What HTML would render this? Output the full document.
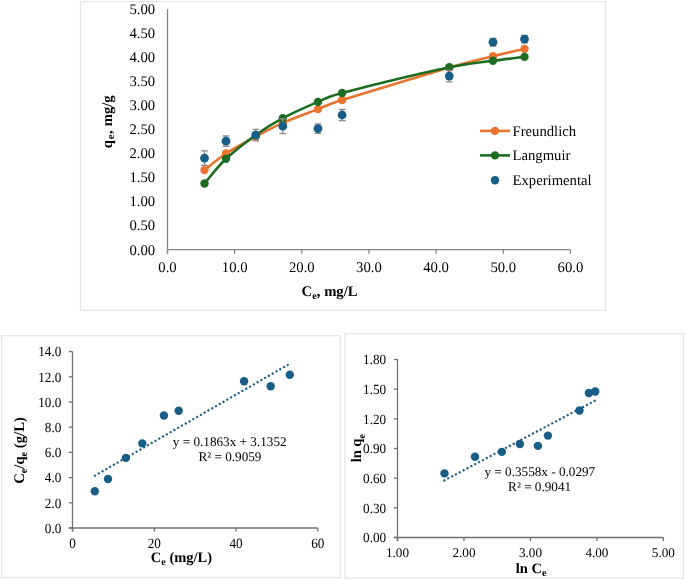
<!DOCTYPE html>
<html><head><meta charset="utf-8"><title>Isotherm charts</title>
<style>html,body{margin:0;padding:0;background:#fff;} svg{display:block;will-change:transform;text-rendering:geometricPrecision;} text{font-family:"Liberation Serif",serif;}</style>
</head><body>
<svg width="685" height="580" viewBox="0 0 685 580">
<rect width="685" height="580" fill="#fff"/>
<rect x="80.5" y="1.6" width="524.90" height="308.60" fill="#fff" stroke="#E5E5E5" stroke-width="1.2"/>
<rect x="1.7" y="335.7" width="338.70" height="241.90" fill="#fff" stroke="#E5E5E5" stroke-width="1.2"/>
<rect x="344.8" y="333.6" width="338.70" height="244.60" fill="#fff" stroke="#E5E5E5" stroke-width="1.2"/>
<line x1="167.5" y1="9.2" x2="167.5" y2="253.7" stroke="#868686" stroke-width="1.3"/>
<line x1="167.5" y1="249.7" x2="570.4" y2="249.7" stroke="#868686" stroke-width="1.3"/>
<line x1="167.50" y1="249.7" x2="167.50" y2="253.7" stroke="#868686" stroke-width="1.3"/>
<line x1="234.65" y1="249.7" x2="234.65" y2="253.7" stroke="#868686" stroke-width="1.3"/>
<line x1="301.80" y1="249.7" x2="301.80" y2="253.7" stroke="#868686" stroke-width="1.3"/>
<line x1="368.95" y1="249.7" x2="368.95" y2="253.7" stroke="#868686" stroke-width="1.3"/>
<line x1="436.10" y1="249.7" x2="436.10" y2="253.7" stroke="#868686" stroke-width="1.3"/>
<line x1="503.25" y1="249.7" x2="503.25" y2="253.7" stroke="#868686" stroke-width="1.3"/>
<line x1="570.40" y1="249.7" x2="570.40" y2="253.7" stroke="#868686" stroke-width="1.3"/>
<text x="155.2" y="254.50" text-anchor="end" font-family="Liberation Serif, serif" font-size="14.7" fill="#000">0.00</text>
<text x="155.2" y="230.45" text-anchor="end" font-family="Liberation Serif, serif" font-size="14.7" fill="#000">0.50</text>
<text x="155.2" y="206.40" text-anchor="end" font-family="Liberation Serif, serif" font-size="14.7" fill="#000">1.00</text>
<text x="155.2" y="182.35" text-anchor="end" font-family="Liberation Serif, serif" font-size="14.7" fill="#000">1.50</text>
<text x="155.2" y="158.30" text-anchor="end" font-family="Liberation Serif, serif" font-size="14.7" fill="#000">2.00</text>
<text x="155.2" y="134.25" text-anchor="end" font-family="Liberation Serif, serif" font-size="14.7" fill="#000">2.50</text>
<text x="155.2" y="110.20" text-anchor="end" font-family="Liberation Serif, serif" font-size="14.7" fill="#000">3.00</text>
<text x="155.2" y="86.15" text-anchor="end" font-family="Liberation Serif, serif" font-size="14.7" fill="#000">3.50</text>
<text x="155.2" y="62.10" text-anchor="end" font-family="Liberation Serif, serif" font-size="14.7" fill="#000">4.00</text>
<text x="155.2" y="38.05" text-anchor="end" font-family="Liberation Serif, serif" font-size="14.7" fill="#000">4.50</text>
<text x="155.2" y="14.00" text-anchor="end" font-family="Liberation Serif, serif" font-size="14.7" fill="#000">5.00</text>
<text x="167.50" y="271.8" text-anchor="middle" font-family="Liberation Serif, serif" font-size="14.7" fill="#000">0.0</text>
<text x="234.65" y="271.8" text-anchor="middle" font-family="Liberation Serif, serif" font-size="14.7" fill="#000">10.0</text>
<text x="301.80" y="271.8" text-anchor="middle" font-family="Liberation Serif, serif" font-size="14.7" fill="#000">20.0</text>
<text x="368.95" y="271.8" text-anchor="middle" font-family="Liberation Serif, serif" font-size="14.7" fill="#000">30.0</text>
<text x="436.10" y="271.8" text-anchor="middle" font-family="Liberation Serif, serif" font-size="14.7" fill="#000">40.0</text>
<text x="503.25" y="271.8" text-anchor="middle" font-family="Liberation Serif, serif" font-size="14.7" fill="#000">50.0</text>
<text x="570.40" y="271.8" text-anchor="middle" font-family="Liberation Serif, serif" font-size="14.7" fill="#000">60.0</text>
<text x="329.6" y="295.6" text-anchor="middle" font-family="Liberation Serif, serif" font-size="14.7" font-weight="bold" fill="#000">C<tspan font-size="10.3" dy="3.3">e</tspan><tspan dy="-3.3">, mg/L</tspan></text>
<text transform="translate(112.1,148.3) rotate(-90)" font-family="Liberation Serif, serif" font-size="14.7" font-weight="bold" fill="#000">q<tspan font-size="10.5" dx="0.9" dy="1.5">e</tspan><tspan dx="0.6" dy="-1.5">,</tspan><tspan dx="0.3"> mg/g</tspan></text>
<path d="M204.50,170.10 C208.08,167.33 217.45,159.08 226.00,153.50 C234.55,147.92 246.33,141.70 255.80,136.60 C265.27,131.50 272.43,127.48 282.80,122.90 C293.17,118.32 308.12,112.92 318.00,109.10 C325.59,106.17 325.29,105.31 342.10,100.00 C363.98,93.08 424.15,74.90 449.30,67.60 C474.45,60.30 480.47,59.32 493.00,56.20 C505.53,53.08 519.25,50.12 524.50,48.90" fill="none" stroke="#E9732F" stroke-width="2.6" stroke-linejoin="round"/>
<circle cx="204.5" cy="170.1" r="4.2" fill="#E9732F"/>
<circle cx="226.0" cy="153.5" r="4.2" fill="#E9732F"/>
<circle cx="255.8" cy="136.6" r="4.2" fill="#E9732F"/>
<circle cx="282.8" cy="122.9" r="4.2" fill="#E9732F"/>
<circle cx="318.0" cy="109.1" r="4.2" fill="#E9732F"/>
<circle cx="342.1" cy="100.0" r="4.2" fill="#E9732F"/>
<circle cx="449.3" cy="67.6" r="4.2" fill="#E9732F"/>
<circle cx="493.0" cy="56.2" r="4.2" fill="#E9732F"/>
<circle cx="524.5" cy="48.9" r="4.2" fill="#E9732F"/>
<path d="M204.50,183.50 C208.08,179.38 217.45,166.88 226.00,158.80 C234.55,150.72 246.33,141.77 255.80,135.00 C265.27,128.23 272.43,123.72 282.80,118.20 C293.17,112.68 308.12,106.10 318.00,101.90 C325.61,98.67 325.25,97.44 342.10,93.00 C363.98,87.23 424.15,72.67 449.30,67.30 C474.45,61.93 480.47,62.53 493.00,60.80 C505.53,59.07 519.25,57.55 524.50,56.90" fill="none" stroke="#1D6C22" stroke-width="2.6" stroke-linejoin="round"/>
<circle cx="204.5" cy="183.5" r="4.2" fill="#1D6C22"/>
<circle cx="226.0" cy="158.8" r="4.2" fill="#1D6C22"/>
<circle cx="255.8" cy="135.0" r="4.2" fill="#1D6C22"/>
<circle cx="282.8" cy="118.2" r="4.2" fill="#1D6C22"/>
<circle cx="318.0" cy="101.9" r="4.2" fill="#1D6C22"/>
<circle cx="342.1" cy="93.0" r="4.2" fill="#1D6C22"/>
<circle cx="449.3" cy="67.3" r="4.2" fill="#1D6C22"/>
<circle cx="493.0" cy="60.8" r="4.2" fill="#1D6C22"/>
<circle cx="524.5" cy="56.9" r="4.2" fill="#1D6C22"/>
<path d="M204.5,150.9 V165.29999999999998 M201.1,150.9 H207.9 M201.1,165.29999999999998 H207.9" stroke="#8C8C8C" stroke-width="1.3" fill="none"/>
<path d="M226.0,136.0 V146.39999999999998 M222.6,136.0 H229.4 M222.6,146.39999999999998 H229.4" stroke="#8C8C8C" stroke-width="1.3" fill="none"/>
<path d="M255.8,129.4 V140.79999999999998 M252.4,129.4 H259.2 M252.4,140.79999999999998 H259.2" stroke="#8C8C8C" stroke-width="1.3" fill="none"/>
<path d="M282.8,118.85000000000001 V133.55 M279.40000000000003,118.85000000000001 H286.2 M279.40000000000003,133.55 H286.2" stroke="#8C8C8C" stroke-width="1.3" fill="none"/>
<path d="M318.0,123.8 V133.4 M314.6,123.8 H321.4 M314.6,133.4 H321.4" stroke="#8C8C8C" stroke-width="1.3" fill="none"/>
<path d="M342.1,109.45 V120.55 M338.70000000000005,109.45 H345.5 M338.70000000000005,120.55 H345.5" stroke="#8C8C8C" stroke-width="1.3" fill="none"/>
<path d="M449.3,70.3 V81.89999999999999 M445.90000000000003,70.3 H452.7 M445.90000000000003,81.89999999999999 H452.7" stroke="#8C8C8C" stroke-width="1.3" fill="none"/>
<path d="M493.0,38.300000000000004 V46.1 M489.6,38.300000000000004 H496.4 M489.6,46.1 H496.4" stroke="#8C8C8C" stroke-width="1.3" fill="none"/>
<path d="M524.5,35.35 V42.85 M521.1,35.35 H527.9 M521.1,42.85 H527.9" stroke="#8C8C8C" stroke-width="1.3" fill="none"/>
<circle cx="204.5" cy="158.1" r="4.4" fill="#195E86"/>
<circle cx="226.0" cy="141.2" r="4.4" fill="#195E86"/>
<circle cx="255.8" cy="135.1" r="4.4" fill="#195E86"/>
<circle cx="282.8" cy="126.2" r="4.4" fill="#195E86"/>
<circle cx="318.0" cy="128.6" r="4.4" fill="#195E86"/>
<circle cx="342.1" cy="115.0" r="4.4" fill="#195E86"/>
<circle cx="449.3" cy="76.1" r="4.4" fill="#195E86"/>
<circle cx="493.0" cy="42.2" r="4.4" fill="#195E86"/>
<circle cx="524.5" cy="39.1" r="4.4" fill="#195E86"/>
<line x1="480" y1="130.9" x2="510" y2="130.9" stroke="#E9732F" stroke-width="2.6"/>
<circle cx="495" cy="130.9" r="4.2" fill="#E9732F"/>
<text x="512.5" y="135.90" font-family="Liberation Serif, serif" font-size="14.7" fill="#000">Freundlich</text>
<line x1="480" y1="155.4" x2="510" y2="155.4" stroke="#1D6C22" stroke-width="2.6"/>
<circle cx="495" cy="155.4" r="4.2" fill="#1D6C22"/>
<text x="512.5" y="160.40" font-family="Liberation Serif, serif" font-size="14.7" fill="#000">Langmuir</text>
<circle cx="495" cy="180.2" r="4.2" fill="#195E86"/>
<text x="512.5" y="185.20" font-family="Liberation Serif, serif" font-size="14.7" fill="#000">Experimental</text>
<line x1="72.5" y1="351.6" x2="72.5" y2="531.6" stroke="#707070" stroke-width="1.3"/>
<line x1="68.9" y1="528.0" x2="317.8" y2="528.0" stroke="#707070" stroke-width="1.3"/>
<line x1="68.9" y1="528.00" x2="72.5" y2="528.00" stroke="#707070" stroke-width="1.3"/>
<text transform="translate(61.30,532.70) scale(1,1.06)" text-anchor="end" font-family="Liberation Serif, serif" font-size="13.2" fill="#000">0.0</text>
<line x1="68.9" y1="502.80" x2="72.5" y2="502.80" stroke="#707070" stroke-width="1.3"/>
<text transform="translate(61.30,507.50) scale(1,1.06)" text-anchor="end" font-family="Liberation Serif, serif" font-size="13.2" fill="#000">2.0</text>
<line x1="68.9" y1="477.60" x2="72.5" y2="477.60" stroke="#707070" stroke-width="1.3"/>
<text transform="translate(61.30,482.30) scale(1,1.06)" text-anchor="end" font-family="Liberation Serif, serif" font-size="13.2" fill="#000">4.0</text>
<line x1="68.9" y1="452.40" x2="72.5" y2="452.40" stroke="#707070" stroke-width="1.3"/>
<text transform="translate(61.30,457.10) scale(1,1.06)" text-anchor="end" font-family="Liberation Serif, serif" font-size="13.2" fill="#000">6.0</text>
<line x1="68.9" y1="427.20" x2="72.5" y2="427.20" stroke="#707070" stroke-width="1.3"/>
<text transform="translate(61.30,431.90) scale(1,1.06)" text-anchor="end" font-family="Liberation Serif, serif" font-size="13.2" fill="#000">8.0</text>
<line x1="68.9" y1="402.00" x2="72.5" y2="402.00" stroke="#707070" stroke-width="1.3"/>
<text transform="translate(61.30,406.70) scale(1,1.06)" text-anchor="end" font-family="Liberation Serif, serif" font-size="13.2" fill="#000">10.0</text>
<line x1="68.9" y1="376.80" x2="72.5" y2="376.80" stroke="#707070" stroke-width="1.3"/>
<text transform="translate(61.30,381.50) scale(1,1.06)" text-anchor="end" font-family="Liberation Serif, serif" font-size="13.2" fill="#000">12.0</text>
<line x1="68.9" y1="351.60" x2="72.5" y2="351.60" stroke="#707070" stroke-width="1.3"/>
<text transform="translate(61.30,356.30) scale(1,1.06)" text-anchor="end" font-family="Liberation Serif, serif" font-size="13.2" fill="#000">14.0</text>
<line x1="72.50" y1="528.0" x2="72.50" y2="531.6" stroke="#707070" stroke-width="1.3"/>
<text transform="translate(72.50,547.70) scale(1,1.07)" text-anchor="middle" font-family="Liberation Serif, serif" font-size="13.2" fill="#000">0</text>
<line x1="154.27" y1="528.0" x2="154.27" y2="531.6" stroke="#707070" stroke-width="1.3"/>
<text transform="translate(154.27,547.70) scale(1,1.07)" text-anchor="middle" font-family="Liberation Serif, serif" font-size="13.2" fill="#000">20</text>
<line x1="236.03" y1="528.0" x2="236.03" y2="531.6" stroke="#707070" stroke-width="1.3"/>
<text transform="translate(236.03,547.70) scale(1,1.07)" text-anchor="middle" font-family="Liberation Serif, serif" font-size="13.2" fill="#000">40</text>
<line x1="317.80" y1="528.0" x2="317.80" y2="531.6" stroke="#707070" stroke-width="1.3"/>
<text transform="translate(317.80,547.70) scale(1,1.07)" text-anchor="middle" font-family="Liberation Serif, serif" font-size="13.2" fill="#000">60</text>
<text x="181.4" y="561.8" text-anchor="middle" font-family="Liberation Serif, serif" font-size="14.5" font-weight="bold" fill="#000">C<tspan font-size="10.2" dy="3.3">e</tspan><tspan dy="-3.3"> (mg/L)</tspan></text>
<text transform="translate(24.3,450.5) rotate(-90)" text-anchor="middle" font-family="Liberation Serif, serif" font-size="14.7" font-weight="bold" fill="#000">C<tspan font-size="10.3" dy="2.2">e</tspan><tspan dy="-2.2">/q</tspan><tspan font-size="10.3" dy="2.2">e</tspan><tspan dy="-2.2"> (g/L)</tspan></text>
<line x1="94.99" y1="475.59" x2="289.18" y2="364.09" stroke="#195E86" stroke-width="2.1" stroke-dasharray="0.01 4.35" stroke-linecap="square"/>
<circle cx="94.8" cy="491.3" r="4.2" fill="#195E86"/>
<circle cx="108.0" cy="479.0" r="4.2" fill="#195E86"/>
<circle cx="125.9" cy="457.9" r="4.2" fill="#195E86"/>
<circle cx="142.3" cy="443.4" r="4.2" fill="#195E86"/>
<circle cx="163.9" cy="415.5" r="4.2" fill="#195E86"/>
<circle cx="178.7" cy="410.8" r="4.2" fill="#195E86"/>
<circle cx="244.1" cy="381.3" r="4.2" fill="#195E86"/>
<circle cx="270.7" cy="386.3" r="4.2" fill="#195E86"/>
<circle cx="289.8" cy="374.7" r="4.2" fill="#195E86"/>
<text transform="translate(229.70,446.00) scale(1,1.0)" text-anchor="middle" font-family="Liberation Serif, serif" font-size="13.2" fill="#000">y = 0.1863x + 3.1352</text>
<text transform="translate(229.90,460.80) scale(1,1.0)" text-anchor="middle" font-family="Liberation Serif, serif" font-size="13.2" fill="#000">R² = 0.9059</text>
<line x1="397.5" y1="359.5" x2="397.5" y2="541.1" stroke="#707070" stroke-width="1.3"/>
<line x1="393.9" y1="537.5" x2="663.4" y2="537.5" stroke="#707070" stroke-width="1.3"/>
<line x1="393.9" y1="537.50" x2="397.5" y2="537.50" stroke="#707070" stroke-width="1.3"/>
<text transform="translate(386.20,542.20) scale(1,1.06)" text-anchor="end" font-family="Liberation Serif, serif" font-size="13.2" fill="#000">0.00</text>
<line x1="393.9" y1="507.83" x2="397.5" y2="507.83" stroke="#707070" stroke-width="1.3"/>
<text transform="translate(386.20,512.53) scale(1,1.06)" text-anchor="end" font-family="Liberation Serif, serif" font-size="13.2" fill="#000">0.30</text>
<line x1="393.9" y1="478.17" x2="397.5" y2="478.17" stroke="#707070" stroke-width="1.3"/>
<text transform="translate(386.20,482.87) scale(1,1.06)" text-anchor="end" font-family="Liberation Serif, serif" font-size="13.2" fill="#000">0.60</text>
<line x1="393.9" y1="448.50" x2="397.5" y2="448.50" stroke="#707070" stroke-width="1.3"/>
<text transform="translate(386.20,453.20) scale(1,1.06)" text-anchor="end" font-family="Liberation Serif, serif" font-size="13.2" fill="#000">0.90</text>
<line x1="393.9" y1="418.83" x2="397.5" y2="418.83" stroke="#707070" stroke-width="1.3"/>
<text transform="translate(386.20,423.53) scale(1,1.06)" text-anchor="end" font-family="Liberation Serif, serif" font-size="13.2" fill="#000">1.20</text>
<line x1="393.9" y1="389.17" x2="397.5" y2="389.17" stroke="#707070" stroke-width="1.3"/>
<text transform="translate(386.20,393.87) scale(1,1.06)" text-anchor="end" font-family="Liberation Serif, serif" font-size="13.2" fill="#000">1.50</text>
<line x1="393.9" y1="359.50" x2="397.5" y2="359.50" stroke="#707070" stroke-width="1.3"/>
<text transform="translate(386.20,364.20) scale(1,1.06)" text-anchor="end" font-family="Liberation Serif, serif" font-size="13.2" fill="#000">1.80</text>
<line x1="397.50" y1="537.5" x2="397.50" y2="541.1" stroke="#707070" stroke-width="1.3"/>
<text transform="translate(397.50,556.90) scale(1,1.0)" text-anchor="middle" font-family="Liberation Serif, serif" font-size="13.2" fill="#000">1.00</text>
<line x1="463.98" y1="537.5" x2="463.98" y2="541.1" stroke="#707070" stroke-width="1.3"/>
<text transform="translate(463.98,556.90) scale(1,1.0)" text-anchor="middle" font-family="Liberation Serif, serif" font-size="13.2" fill="#000">2.00</text>
<line x1="530.45" y1="537.5" x2="530.45" y2="541.1" stroke="#707070" stroke-width="1.3"/>
<text transform="translate(530.45,556.90) scale(1,1.0)" text-anchor="middle" font-family="Liberation Serif, serif" font-size="13.2" fill="#000">3.00</text>
<line x1="596.92" y1="537.5" x2="596.92" y2="541.1" stroke="#707070" stroke-width="1.3"/>
<text transform="translate(596.92,556.90) scale(1,1.0)" text-anchor="middle" font-family="Liberation Serif, serif" font-size="13.2" fill="#000">4.00</text>
<line x1="663.40" y1="537.5" x2="663.40" y2="541.1" stroke="#707070" stroke-width="1.3"/>
<text transform="translate(663.40,556.90) scale(1,1.0)" text-anchor="middle" font-family="Liberation Serif, serif" font-size="13.2" fill="#000">5.00</text>
<text x="531.1" y="573.0" text-anchor="middle" font-family="Liberation Serif, serif" font-size="14.5" font-weight="bold" fill="#000">ln C<tspan font-size="10.2" dy="3.3">e</tspan></text>
<text transform="translate(361.2,448.2) rotate(-90)" text-anchor="middle" font-family="Liberation Serif, serif" font-size="14.5" font-weight="bold" fill="#000">ln q<tspan font-size="10.2" dy="3.3">e</tspan></text>
<line x1="444.35" y1="480.46" x2="594.95" y2="400.74" stroke="#195E86" stroke-width="2.1" stroke-dasharray="0.01 4.35" stroke-linecap="square"/>
<circle cx="444.5" cy="473.4" r="4.2" fill="#195E86"/>
<circle cx="475.0" cy="456.8" r="4.2" fill="#195E86"/>
<circle cx="501.8" cy="451.9" r="4.2" fill="#195E86"/>
<circle cx="519.9" cy="444.0" r="4.2" fill="#195E86"/>
<circle cx="537.9" cy="445.9" r="4.2" fill="#195E86"/>
<circle cx="547.9" cy="435.6" r="4.2" fill="#195E86"/>
<circle cx="579.5" cy="410.5" r="4.2" fill="#195E86"/>
<circle cx="588.9" cy="393.0" r="4.2" fill="#195E86"/>
<circle cx="595.2" cy="391.5" r="4.2" fill="#195E86"/>
<text transform="translate(539.80,476.10) scale(1,1.0)" text-anchor="middle" font-family="Liberation Serif, serif" font-size="13.2" fill="#000">y = 0.3558x - 0.0297</text>
<text transform="translate(539.60,491.30) scale(1,1.0)" text-anchor="middle" font-family="Liberation Serif, serif" font-size="13.2" fill="#000">R² = 0.9041</text>
</svg>
</body></html>
